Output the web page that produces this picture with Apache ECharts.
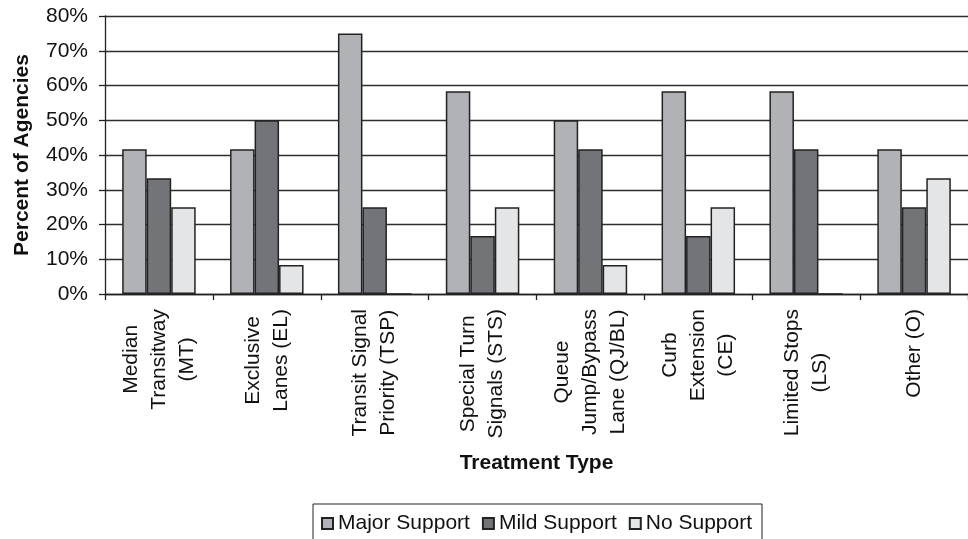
<!DOCTYPE html>
<html>
<head>
<meta charset="utf-8">
<script src="https://cdn.jsdelivr.net/npm/echarts@6/dist/echarts.min.js"></script>
<style>
  html, body { margin: 0; padding: 0; background: #ffffff; }
  #chart { width: 968px; height: 539px; }
</style>
</head>
<body>
<div id="chart"></div>
<script>
// Treatment types (line breaks as shown under the axis)
const categories = [
  'Median\nTransitway\n(MT)',
  'Exclusive\nLanes (EL)',
  'Transit Signal\nPriority (TSP)',
  'Special Turn\nSignals (STS)',
  'Queue\nJump/Bypass\nLane (QJ/BL)',
  'Curb\nExtension\n(CE)',
  'Limited Stops\n(LS)',
  'Other (O)'
];

// Share of agencies (%) per level of support
const majorSupport = [41.67, 41.67, 75, 58.33, 50, 58.33, 58.33, 41.67];
const mildSupport  = [33.33, 50, 25, 16.67, 41.67, 16.67, 41.67, 25];
const noSupport    = [25, 8.33, 0, 25, 8.33, 25, 0, 33.33];

const seriesNames = ['Major Support', 'Mild Support', 'No Support'];
const yTicks = [0, 10, 20, 30, 40, 50, 60, 70, 80];

const FONT = '"Liberation Sans", Arial, Helvetica, sans-serif';
const FS = 21;
const fills = ['#b1b2b6', '#737478', '#e4e5e7'];
const edge = '#222222';

const chart = echarts.init(document.getElementById('chart'), null, { renderer: 'canvas' });

function barSeries(name, data, color) {
  return {
    name: name,
    type: 'bar',
    data: data,
    barWidth: 24.5,
    barGap: '0%',
    itemStyle: { color: color, borderColor: edge, borderWidth: 1.5 },
    emphasis: { disabled: true }
  };
}

const option = {
  animation: false,
  backgroundColor: '#ffffff',
  textStyle: { fontFamily: FONT },
  grid: { left: 105, top: 16, right: -10, bottom: 245, containLabel: false },
  xAxis: {
    type: 'category',
    data: categories,
    name: 'Treatment Type',
    nameLocation: 'middle',
    nameGap: 159,
    nameTextStyle: { fontFamily: FONT, fontSize: FS, fontWeight: 'bold', color: '#111' },
    axisLine: { lineStyle: { color: '#222', width: 1.3 } },
    axisTick: { show: true, length: 6, alignWithLabel: false, lineStyle: { color: '#222', width: 1.3 } },
    axisLabel: {
      interval: 0,
      rotate: 90,
      margin: 15,
      color: '#111',
      fontFamily: FONT,
      fontSize: FS,
      formatter: function (v) {
        return v.split('\n').map(function (s) { return '{c|' + s + '}'; }).join('\n');
      },
      rich: {
        c: { align: 'center', fontFamily: FONT, fontSize: FS, lineHeight: 28, color: '#111' }
      }
    },
    splitLine: { show: false }
  },
  yAxis: {
    type: 'value',
    min: yTicks[0],
    max: yTicks[yTicks.length - 1],
    interval: 10,
    name: 'Percent of Agencies',
    nameLocation: 'middle',
    nameGap: 72,
    nameRotate: 90,
    nameTextStyle: { fontFamily: FONT, fontSize: FS, fontWeight: 'bold', color: '#111' },
    axisLine: { show: true, lineStyle: { color: '#222', width: 1.3 } },
    axisTick: { show: true, length: 6, inside: false, lineStyle: { color: '#222', width: 1.3 } },
    axisLabel: {
      margin: 17,
      color: '#111',
      fontFamily: FONT,
      fontSize: FS,
      formatter: '{value}%'
    },
    splitLine: { show: true, lineStyle: { color: '#2e2e2e', width: 1.3 } }
  },
  legend: {
    data: seriesNames,
    left: 313,
    top: 504,
    orient: 'horizontal',
    icon: 'rect',
    itemWidth: 11,
    itemHeight: 11,
    itemGap: 12,
    padding: [9, 10, 24, 8],
    borderColor: '#222',
    borderWidth: 1,
    selectedMode: false,
    textStyle: { fontFamily: FONT, fontSize: FS, color: '#111' }
  },
  series: [
    barSeries(seriesNames[0], majorSupport, fills[0]),
    barSeries(seriesNames[1], mildSupport, fills[1]),
    barSeries(seriesNames[2], noSupport, fills[2])
  ]
};

chart.setOption(option);
</script>
</body>
</html>
